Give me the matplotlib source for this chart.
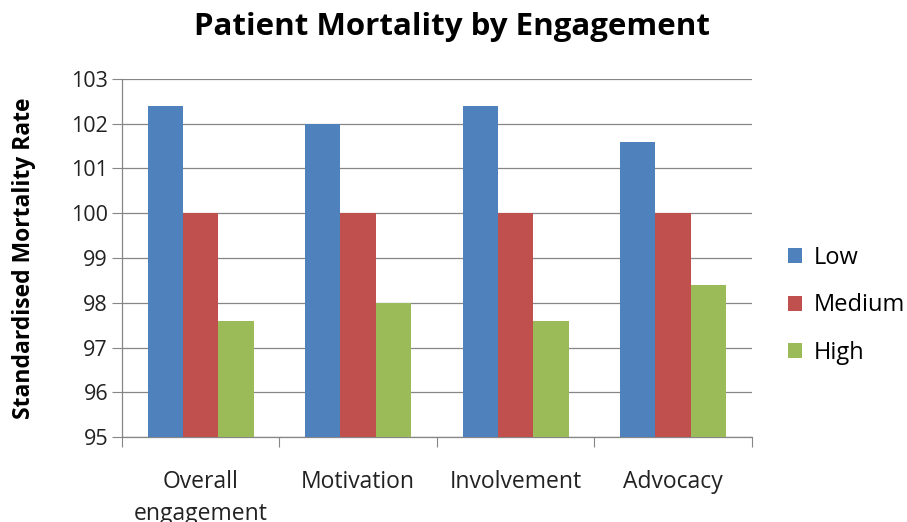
import numpy as np
import matplotlib
matplotlib.use("Agg")
import matplotlib.pyplot as plt
from matplotlib.ticker import FixedLocator, NullFormatter

plt.rcParams['font.family'] = ['Open Sans', 'DejaVu Sans']

categories = ["Overall\nengagement", "Motivation", "Involvement", "Advocacy"]
series_names = ["Low", "Medium", "High"]
low = [102.4, 102.0, 102.4, 101.6]
medium = [100.0, 100.0, 100.0, 100.0]
high = [97.6, 98.0, 97.6, 98.4]
colors = ["#4F81BD", "#C0504D", "#9BBB59"]

fig = plt.figure(figsize=(9.07, 5.22), dpi=100)
ax = fig.add_axes([0.1345, 0.1628, 0.6945, 0.6859])

x = np.arange(len(categories))
w = 0.225
for i, (vals, name) in enumerate(zip([low, medium, high], series_names)):
    ax.bar(x + (i - 1) * w, np.array(vals) - 95, bottom=95, width=w,
           color=colors[i], label=name, zorder=3)

ax.set_xlim(-0.5, len(categories) - 0.5)
ax.set_ylim(95, 103)
ax.set_yticks(range(95, 104))
ax.yaxis.grid(True, color="#868686", linewidth=0.9, zorder=0)

# category labels sit between the boundary ticks
ax.xaxis.set_major_locator(FixedLocator(np.arange(-0.5, len(categories), 1)))
ax.xaxis.set_major_formatter(NullFormatter())
ax.xaxis.set_minor_locator(FixedLocator(x))
ax.set_xticklabels(categories, minor=True, fontsize=16.5, color="#222222",
                   va="top", linespacing=1.45)
ax.tick_params(axis="x", which="minor", length=0, pad=24)
ax.tick_params(axis="x", which="major", length=7, color="#868686", direction="out")
ax.tick_params(axis="y", length=7, color="#868686", labelsize=15.5, pad=3,
               labelcolor="#222222")

for s in ["top", "right"]:
    ax.spines[s].set_visible(False)
for s in ["left", "bottom"]:
    ax.spines[s].set_color("#868686")
    ax.spines[s].set_linewidth(0.9)

ax.set_ylabel("Standardised Mortality Rate", fontsize=16.5, fontweight="bold",
              labelpad=25)
fig.suptitle("Patient Mortality by Engagement", fontsize=22.5, fontweight="bold",
             x=0.498, y=0.977)

fig.legend(loc="center left", bbox_to_anchor=(0.845, 0.415), frameon=False,
           fontsize=17, labelspacing=1.0, handlelength=0.6, handleheight=0.6,
           handletextpad=0.5)

fig.savefig("out.png", dpi=100)
